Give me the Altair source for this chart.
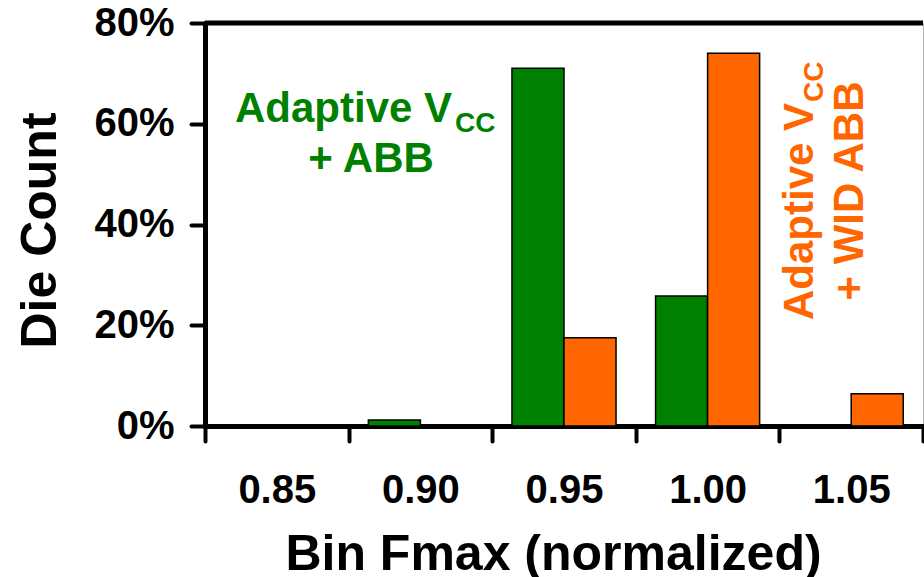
import altair as alt
import pandas as pd

# Frequency bins (normalized Fmax) and the share of dies landing in each bin, in percent
bins = ["0.85", "0.90", "0.95", "1.00", "1.05"]
series_names = ["Adaptive Vcc + ABB", "Adaptive Vcc + WID ABB"]
abb_pct = [0.0, 1.2, 71.0, 25.8, 0.0]
wid_abb_pct = [0.0, 0.0, 17.5, 74.0, 6.4]
y_ticks = [0, 20, 40, 60, 80]

# Annotation texts (main part, subscript, second line)
abb_note = ["Adaptive V", "CC", "+ ABB"]
wid_note = ["Adaptive V", "CC", "+ WID ABB"]

GREEN = "#008000"
ORANGE = "#FF6600"
FONT = "Liberation Sans"

rows = []
for b, g, o in zip(bins, abb_pct, wid_abb_pct):
    rows.append({"bin": b, "series": series_names[0], "pct": g})
    rows.append({"bin": b, "series": series_names[1], "pct": o})
df = pd.DataFrame(rows)
df = df[df["pct"] > 0]

bars = alt.Chart(df).mark_bar(stroke="black", strokeWidth=1.5).encode(
    x=alt.X(
        "bin:N",
        sort=bins,
        scale=alt.Scale(domain=bins, paddingInner=0, paddingOuter=0),
        axis=alt.Axis(
            title="Bin Fmax (normalized)",
            tickBand="extent",
            labelAngle=0,
            tickSize=15,
            labelPadding=29,
            titleX=348,
            titleY=143,
            titleBaseline="alphabetic",
            titleAlign="center",
        ),
    ),
    xOffset=alt.XOffset(
        "series:N",
        scale=alt.Scale(domain=series_names, paddingInner=0, paddingOuter=0.38),
    ),
    y=alt.Y(
        "pct:Q",
        scale=alt.Scale(domain=[0, 80], nice=False),
        axis=alt.Axis(
            title="Die Count",
            values=y_ticks,
            labelExpr="datum.value + '%'",
            grid=False,
            tickSize=14,
            labelPadding=17,
            labelFlush=False,
            titleAngle=270,
            titleX=-150,
            titleY=207,
            titleBaseline="alphabetic",
            titleAlign="center",
        ),
    ),
    color=alt.Color(
        "series:N",
        scale=alt.Scale(domain=series_names, range=[GREEN, ORANGE]),
        legend=None,
    ),
)

# Heavy frame line across the top of the plot
top_rule = alt.Chart(pd.DataFrame({"pct": [80]})).mark_rule(
    color="black", strokeWidth=5
).encode(y="pct:Q")


def note(text, x, y, size, color, align="left", angle=0):
    return alt.Chart(pd.DataFrame({"t": [text]})).mark_text(
        font=FONT,
        fontSize=size,
        fontWeight="bold",
        color=color,
        align=align,
        baseline="alphabetic",
        angle=angle,
    ).encode(text="t:N", x=alt.value(x), y=alt.value(y))


# Green label, horizontal, with subscript
g1 = note(abb_note[0], 30, 99, 42, GREEN)
g2 = note(abb_note[1], 250, 109, 28, GREEN)
g3 = note(abb_note[2], 166, 149, 42, GREEN, align="center")

# Orange label, rotated to read bottom-to-top, with subscript
o1 = note(wid_note[0], 608, 297, 42, ORANGE, angle=270)
o2 = note(wid_note[1], 618, 79, 28, ORANGE, angle=270)
o3 = note(wid_note[2], 658, 168, 42, ORANGE, align="center", angle=270)

chart = (
    alt.layer(bars, top_rule, g1, g2, g3, o1, o2, o3)
    .properties(
        width=718,
        height=403,
        autosize=alt.AutoSizeParams(type="none"),
        padding={"left": 205, "top": 23, "right": 1, "bottom": 151},
    )
    .configure_view(stroke="#b0b0b0", strokeWidth=1)
    .configure_axis(
        domainColor="black",
        domainWidth=5,
        domainCap="round",
        tickColor="black",
        tickWidth=4,
        tickCap="round",
        labelFont=FONT,
        labelFontSize=40,
        labelFontWeight="bold",
        labelColor="black",
        labelOverlap=False,
        titleFont=FONT,
        titleFontSize=50,
        titleFontWeight="bold",
        titleColor="black",
    )
)

chart.save("out.html", embed_options={"renderer": "svg", "actions": False})
